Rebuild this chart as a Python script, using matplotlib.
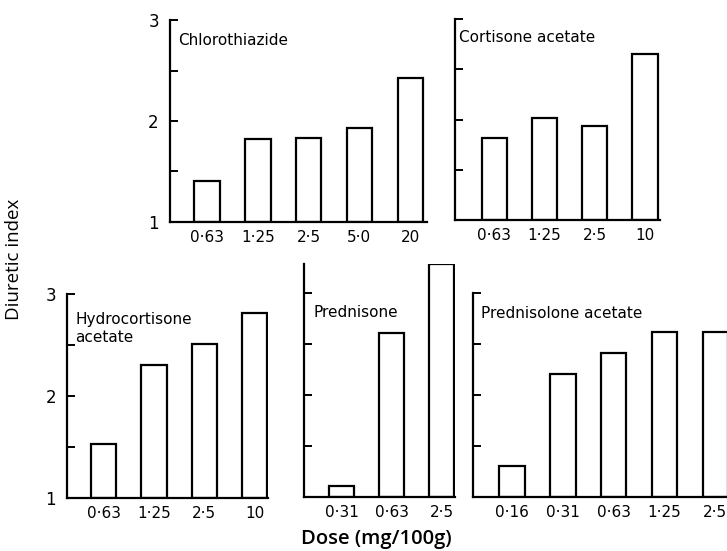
import matplotlib
matplotlib.use("Agg")
import matplotlib.pyplot as plt
from matplotlib.ticker import MultipleLocator

# Diuretic index per dose, one small panel per steroid
chloro_doses = ["0·63", "1·25", "2·5", "5·0", "20"]
chloro_vals = [1.41, 1.82, 1.83, 1.93, 2.43]

cort_doses = ["0·63", "1·25", "2·5", "10"]
cort_vals = [1.82, 2.02, 1.94, 2.65]

hydro_doses = ["0·63", "1·25", "2·5", "10"]
hydro_vals = [1.53, 2.30, 2.51, 2.81]

pred_doses = ["0·31", "0·63", "2·5"]
pred_vals = [1.11, 2.61, 3.29]

predacet_doses = ["0·16", "0·31", "0·63", "1·25", "2·5"]
predacet_vals = [1.30, 2.21, 2.41, 2.62, 2.62]

narrow = ["Liberation Sans Narrow", "DejaVu Sans"]

fig = plt.figure(figsize=(7.27, 5.51), dpi=100)


def panel(rect, doses, vals, title, xlim, ytop=3.0, ylabels=False, title_xy=(0.03, 0.88)):
    ax = fig.add_axes(rect)
    x = list(range(len(vals)))
    ax.bar(x, [v - 1 for v in vals], bottom=1, width=0.5,
           color="white", edgecolor="black", linewidth=1.6)
    ax.set_xlim(*xlim)
    ax.set_ylim(1, ytop)
    ax.spines["top"].set_visible(False)
    ax.spines["right"].set_visible(False)
    ax.spines["left"].set_linewidth(1.6)
    ax.spines["bottom"].set_linewidth(1.6)
    ax.set_xticks(x)
    ax.set_xticklabels(doses, family=narrow, fontsize=11)
    ax.tick_params(axis="x", length=0, pad=6)
    ax.yaxis.set_major_locator(MultipleLocator(1))
    ax.yaxis.set_minor_locator(MultipleLocator(0.5))
    ax.tick_params(axis="y", which="both", direction="in", length=6, width=1.4)
    if ylabels:
        ax.set_yticks([1, 2, 3])
        ax.set_yticklabels(["1", "2", "3"], family=narrow, fontsize=12)
        ax.tick_params(axis="y", pad=8)
    else:
        ax.set_yticklabels([])
    ax.text(title_xy[0], title_xy[1], title, transform=ax.transAxes,
            family=narrow, fontsize=11, va="center", ha="left")
    return ax


panel([0.2338, 0.5971, 0.3535, 0.3666], chloro_doses, chloro_vals,
      "Chlorothiazide", (-0.73, 4.33), ylabels=True, title_xy=(0.03, 0.90))
panel([0.6259, 0.6007, 0.2820, 0.3648], cort_doses, cort_vals,
      "Cortisone acetate", (-0.78, 3.30), title_xy=(0.02, 0.91))
panel([0.0922, 0.0962, 0.2765, 0.3702], hydro_doses, hydro_vals,
      "Hydrocortisone\nacetate", (-0.73, 3.27), ylabels=True, title_xy=(0.04, 0.83))
panel([0.4182, 0.0980, 0.2077, 0.4229], pred_doses, pred_vals,
      "Prednisone", (-0.75, 2.27), ytop=3.29, title_xy=(0.06, 0.79))
panel([0.6506, 0.0980, 0.3521, 0.3702], predacet_doses, predacet_vals,
      "Prednisolone acetate", (-0.77, 4.27), title_xy=(0.03, 0.90))

fig.text(0.019, 0.53, "Diuretic index", rotation=90, ha="center", va="center",
         fontsize=13.5, family=["Open Sans", "DejaVu Sans"])
fig.text(0.517, 0.022, "Dose (mg/100g)", ha="center", va="center",
         fontsize=14.5, fontweight="semibold", family=["Open Sans", "DejaVu Sans"])

fig.savefig("out.png", dpi=100)
